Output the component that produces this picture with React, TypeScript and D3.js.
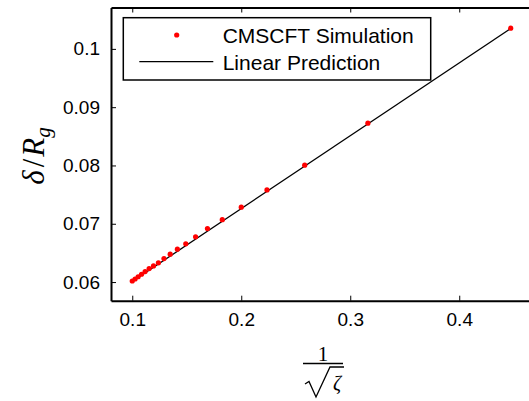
import React, { useRef, useEffect } from 'react'
import * as d3 from 'd3'

// simulation points, x = 1/sqrt(zeta)
const invSqrtZeta = [0.4472, 0.3162, 0.2582, 0.2236, 0.2, 0.1826, 0.169, 0.1581, 0.1491, 0.1414,
    0.1348, 0.1291, 0.124, 0.1195, 0.1155, 0.1118, 0.1085, 0.1054, 0.1026, 0.1];
const deltaOverRg = [0.10355, 0.08726, 0.08005, 0.07581, 0.07285, 0.0707, 0.06918, 0.06775, 0.06655, 0.06564,
    0.06479, 0.06403, 0.06329, 0.06277, 0.06231, 0.0618, 0.06134, 0.06091, 0.06052, 0.06018];

// linear prediction end points
const predictionX = [0.1, 0.4472];
const predictionY = [0.0601, 0.1035];

const xTicks = [0.1, 0.2, 0.3, 0.4];
const yTicks = [0.06, 0.07, 0.08, 0.09, 0.1];
const legendLabels = ['CMSCFT Simulation', 'Linear Prediction'];

const App = () => {
    const visEl = useRef(null);
    const width = 529;
    const height = 401;

    useEffect(() => {
        const root = d3.select(visEl.current);
        root.selectAll('*').remove();
        const svg = root.append('svg')
            .attr('width', width)
            .attr('height', height)
            .style('display', 'block')
            .style('background', '#fff');

        const xScale = d3.scaleLinear().domain([0.0805, 0.464]).range([111, 529]);
        const yScale = d3.scaleLinear().domain([0.0568, 0.1071]).range([300.7, 7.5]);
        const tickFont = '"Liberation Sans", Arial, Helvetica, sans-serif';

        // prediction line
        const lineGenerator = d3.line<number>()
            .x(d => xScale(d))
            .y((d, i) => yScale(predictionY[i]));
        svg.append('path')
            .attr('d', lineGenerator(predictionX))
            .attr('fill', 'none')
            .attr('stroke', '#000')
            .attr('stroke-width', 1.3);

        svg.append('g').selectAll('circle')
            .data(invSqrtZeta)
            .join('circle')
            .attr('cx', d => xScale(d))
            .attr('cy', (d, i) => yScale(deltaOverRg[i]))
            .attr('r', 2.6)
            .attr('fill', '#ff0000');

        // axes
        const xAxis = d3.axisBottom(xScale).tickValues(xTicks).tickFormat(d3.format('')).tickSizeInner(-5).tickSizeOuter(0).tickPadding(12);
        const xAxisG = svg.append('g').attr('transform', `translate(0,${yScale.range()[0]})`).call(xAxis);
        const xTop = d3.axisTop(xScale).tickValues(xTicks).tickFormat(() => '').tickSizeInner(-5).tickSizeOuter(0);
        const xTopG = svg.append('g').attr('transform', `translate(0,${yScale.range()[1]})`).call(xTop);
        const yAxis = d3.axisLeft(yScale).tickValues(yTicks).tickFormat(d3.format('')).tickSizeInner(-5).tickSizeOuter(0).tickPadding(11);
        const yAxisG = svg.append('g').attr('transform', `translate(${xScale.range()[0]},0)`).call(yAxis);

        [xAxisG, xTopG, yAxisG].forEach(g => {
            g.select('.domain').attr('stroke', '#000').attr('stroke-width', 2);
            g.selectAll('.tick line').attr('stroke', '#000').attr('stroke-width', 1);
            g.selectAll('.tick text').attr('fill', '#000').style('font-family', tickFont).style('font-size', '19px');
        });

        // legend
        const lg = svg.append('g');
        lg.append('rect')
            .attr('x', 123.3).attr('y', 17.7)
            .attr('width', 307.4).attr('height', 62.3)
            .attr('fill', '#fff').attr('stroke', '#000').attr('stroke-width', 1.5);
        lg.append('circle').attr('cx', 176.7).attr('cy', 35).attr('r', 2.6).attr('fill', '#ff0000');
        lg.append('line').attr('x1', 139.3).attr('x2', 213.3).attr('y1', 61.7).attr('y2', 61.7)
            .attr('stroke', '#000').attr('stroke-width', 1.3);
        lg.selectAll('text.lbl')
            .data(legendLabels)
            .join('text')
            .attr('class', 'lbl')
            .attr('x', 222.7)
            .attr('y', (d, i) => 42.5 + i * 27.5)
            .style('font-family', tickFont)
            .style('font-size', '21px')
            .text(d => d);

        // y label: delta / R_g
        const serif = '"Liberation Serif", "Times New Roman", serif';
        const yl = svg.append('text')
            .attr('transform', 'translate(44,156) rotate(-90)')
            .attr('text-anchor', 'middle')
            .style('font-family', serif)
            .style('font-size', '31px');
        yl.append('tspan').style('font-style', 'italic').text('δ');
        yl.append('tspan').attr('dx', 3).text('/');
        yl.append('tspan').style('font-style', 'italic').attr('dx', 2).text('R');
        yl.append('tspan').style('font-style', 'italic').style('font-size', '21px').attr('dy', 6).text('g');

        // x label: 1 / sqrt(zeta)
        const xl = svg.append('g');
        xl.append('text').attr('x', 323).attr('y', 360.5).attr('text-anchor', 'middle')
            .style('font-family', serif).style('font-size', '21px').text('1');
        xl.append('line').attr('x1', 303).attr('x2', 343).attr('y1', 363.5).attr('y2', 363.5)
            .attr('stroke', '#000').attr('stroke-width', 1.3);
        xl.append('path')
            .attr('d', 'M305,384 L309,381.5 L316,397 L330,367 L344,367')
            .attr('fill', 'none').attr('stroke', '#000').attr('stroke-width', 1.3);
        xl.append('text').attr('x', 337).attr('y', 390).attr('text-anchor', 'middle')
            .style('font-family', serif).style('font-style', 'italic').style('font-size', '20px').text('ζ');
    }, []);

    return (
        <div style={{ position: 'absolute', left: 0, top: 0 }}>
            <div ref={visEl}></div>
        </div>
    );
}

export default App
